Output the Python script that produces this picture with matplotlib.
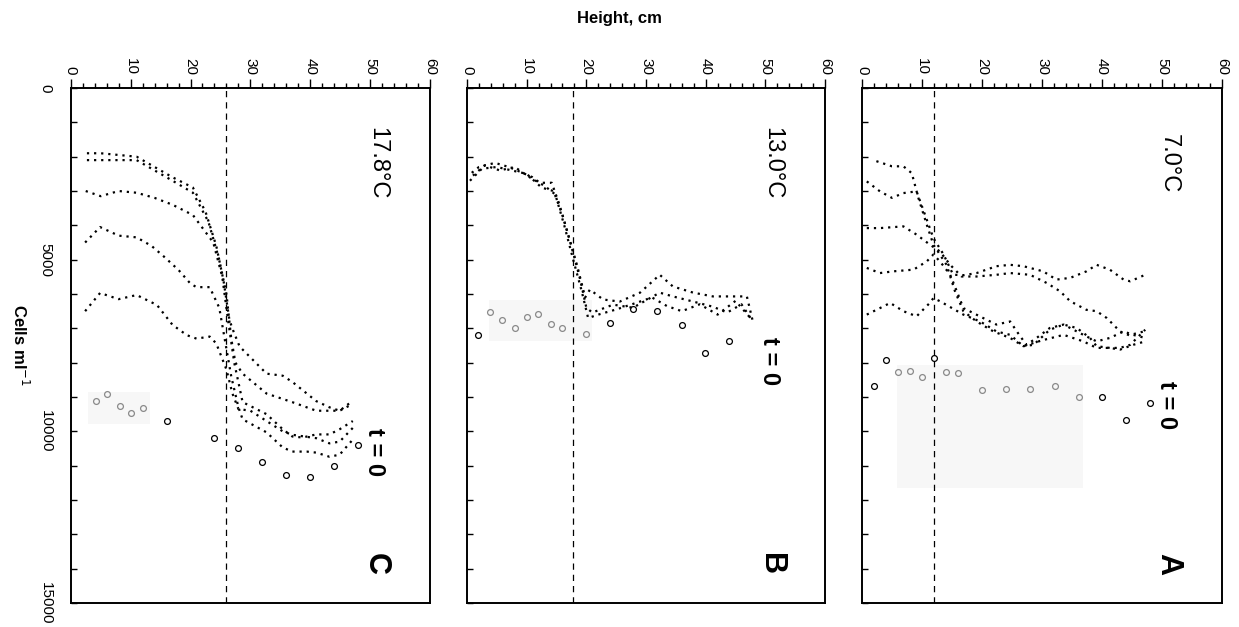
import numpy as np
import matplotlib
matplotlib.use('Agg')
import matplotlib.pyplot as plt
from matplotlib.patches import Rectangle

plt.rcParams['font.family'] = ['Liberation Sans', 'DejaVu Sans']

# ---- panel A : 7.0 C ----
a_h1 = [2.4, 5.0, 6.9, 8.3, 9.4, 10.8, 11.9, 14.1, 15.5, 16.9, 19.1, 21.9, 24.7, 26.9, 28.6, 31.3, 33.6, 35.8, 38.0, 39.1, 41.3, 43.0, 44.7, 47.2]
a_c1 = [2130, 2280, 2280, 2480, 3200, 3980, 4560, 5150, 5920, 6500, 6800, 7090, 7280, 7520, 7480, 7040, 6890, 6990, 7280, 7520, 7570, 7570, 7480, 7040]
a_h2 = [0.8, 3.0, 5.0, 6.9, 9.1, 10.5, 11.9, 13.6, 15.2, 17.0, 19.1, 22.4, 24.7, 26.9, 30.2, 32.4, 34.7, 37.4, 39.1, 41.3, 43.6, 44.7, 47.2]
a_c2 = [2720, 3010, 3200, 3060, 3010, 3690, 4370, 4850, 5440, 5450, 5390, 5190, 5150, 5190, 5340, 5580, 5530, 5340, 5150, 5290, 5580, 5630, 5440]
a_h3 = [0.8, 3.0, 6.9, 9.1, 11.3, 13.0, 14.7, 16.6, 19.1, 22.4, 24.7, 28.0, 30.8, 33.0, 34.7, 37.4, 39.1, 40.8, 43.0, 44.5, 47.0]
a_c3 = [4080, 4080, 4030, 4270, 4560, 4760, 5150, 5490, 5490, 5440, 5390, 5440, 5680, 5920, 6210, 6460, 6500, 6700, 7090, 7200, 7090]
a_h4 = [0.8, 3.0, 5.2, 8.6, 10.8, 11.9, 13.0, 14.7, 15.8, 16.9, 20.2, 22.4, 24.7, 25.8, 27.4, 29.1, 31.3, 33.6, 36.9, 39.1, 41.3, 43.6, 45.2, 47.2]
a_c4 = [5240, 5390, 5340, 5290, 5050, 4850, 5050, 5440, 5920, 6410, 6700, 6890, 6800, 7090, 7480, 7280, 6990, 6890, 7190, 7380, 7280, 7090, 7190, 7280]
a_h5 = [0.8, 3.0, 4.7, 6.9, 9.1, 11.3, 11.9, 13.0, 15.0, 16.9, 19.7, 22.4, 24.7, 26.9, 30.0, 33.6, 36.9, 39.1, 41.3, 43.0, 45.2, 47.2]
a_c5 = [6600, 6410, 6260, 6500, 6650, 6260, 6120, 6210, 6410, 6600, 6800, 7090, 7190, 7520, 7350, 7190, 7380, 7570, 7570, 7620, 7480, 7380]
a_t0_h = [2.0, 4.0, 6.0, 8.0, 10.0, 12.0, 14.0, 16.0, 20.0, 24.0, 28.0, 32.1, 36.1, 40.0, 44.0, 48.0]
a_t0_c = [8690, 7910, 8270, 8250, 8420, 7870, 8270, 8300, 8790, 8770, 8770, 8670, 8990, 9010, 9680, 9180]

# ---- panel B : 13.0 C ----
b_h1 = [0.8, 2.0, 4.7, 7.0, 8.9, 11.0, 12.2, 14.2, 15.5, 17.0, 18.5, 19.8, 20.6, 22.8, 25.6, 29.0, 32.3, 34.5, 37.9, 41.2, 44.5, 46.9, 47.9]
b_c1 = [2470, 2300, 2180, 2300, 2440, 2600, 2760, 2760, 3400, 4300, 5200, 6100, 5870, 6160, 6220, 5960, 5440, 5780, 5960, 6070, 6070, 6070, 6800]
b_h2 = [0.5, 2.5, 5.0, 7.5, 10.0, 12.5, 14.5, 16.0, 17.5, 19.0, 20.0, 21.0, 24.5, 27.8, 32.3, 34.5, 37.9, 41.2, 43.6, 46.0, 47.9]
b_c2 = [2700, 2350, 2300, 2400, 2500, 2900, 3000, 3700, 4600, 5600, 6400, 6540, 6310, 6400, 5960, 6070, 6220, 6370, 6540, 6300, 6800]
b_h3 = [1.0, 3.0, 5.5, 8.0, 10.5, 13.0, 14.8, 16.3, 17.8, 19.2, 20.3, 22.0, 25.0, 28.5, 31.0, 33.5, 36.0, 39.0, 42.0, 45.0, 47.5]
b_c3 = [2550, 2250, 2400, 2300, 2600, 2850, 3100, 4000, 5000, 5900, 6700, 6600, 6450, 6250, 6100, 6350, 6500, 6300, 6600, 6200, 6700]
b_t0_h = [1.8, 3.9, 5.9, 8.0, 10.0, 11.9, 14.0, 16.0, 20.0, 24.0, 27.9, 31.9, 36.0, 39.9, 43.9]
b_t0_c = [7180, 6520, 6760, 6980, 6670, 6590, 6880, 7000, 7160, 6840, 6430, 6490, 6910, 7730, 7380]

# ---- panel C : 17.8 C ----
c_h1 = [2.7, 5.0, 8.0, 11.0, 14.0, 17.0, 20.4, 22.5, 24.3, 25.5, 26.5, 27.2, 28.2, 32.7, 35.4, 37.0, 41.0, 43.2, 44.9, 47.0]
c_c1 = [1900, 1900, 1950, 2000, 2300, 2600, 2900, 3600, 4600, 5600, 6760, 7100, 7530, 8320, 8380, 8560, 9120, 9300, 9400, 9120]
c_h2 = [2.7, 5.0, 8.0, 11.0, 14.0, 17.0, 20.4, 23.0, 24.8, 26.0, 26.8, 27.5, 28.7, 32.7, 37.0, 41.0, 43.2, 44.9, 47.1]
c_c2 = [2100, 2100, 2100, 2100, 2400, 2700, 3050, 3900, 5000, 6000, 7300, 8000, 8320, 8900, 9150, 9400, 9400, 9400, 9200]
c_h3 = [2.5, 5.0, 8.0, 11.0, 14.0, 17.0, 20.4, 23.8, 25.3, 26.3, 27.3, 28.7, 32.7, 35.4, 37.0, 38.7, 41.0, 43.2, 44.9, 47.1]
c_c3 = [3000, 3150, 3000, 3050, 3200, 3400, 3700, 4500, 5500, 6800, 8000, 9150, 9500, 9940, 10150, 10180, 10090, 10090, 9940, 9700]
c_h4 = [2.4, 4.9, 8.0, 11.0, 13.5, 15.5, 18.0, 20.0, 21.0, 23.2, 24.8, 25.8, 26.8, 28.0, 28.7, 32.7, 35.4, 37.0, 39.4, 41.0, 43.2, 44.9, 47.1]
c_c4 = [4500, 4050, 4300, 4350, 4600, 4900, 5300, 5700, 5800, 5800, 6400, 7400, 8400, 9300, 9650, 10030, 10470, 10590, 10590, 10620, 10740, 10680, 10240]
c_h5 = [2.4, 4.9, 8.0, 11.0, 14.4, 17.0, 19.4, 21.0, 23.2, 24.3, 26.0, 27.0, 28.0, 30.0, 32.7, 35.4, 37.0, 41.0, 43.2, 44.9, 47.1]
c_c5 = [6500, 5970, 6150, 6030, 6320, 6900, 7200, 7300, 7240, 7440, 8200, 8900, 9350, 9400, 9700, 10000, 10100, 10200, 10350, 10300, 9900]
c_t0_h = [4.2, 6.1, 8.2, 10.1, 12.1, 16.0, 23.9, 28.0, 32.0, 36.0, 40.0, 44.0, 47.9]
c_t0_c = [9110, 8910, 9260, 9480, 9320, 9710, 10200, 10480, 10890, 11260, 11320, 11020, 10400]

fig = plt.figure(figsize=(12.39, 6.27), dpi=100)


def panel(rect, lines, t0_h, t0_c, dash_h, box, temp, t0_y, letter, ylabels):
    ax = fig.add_axes(rect)
    # faint grey scan patch
    x0, x1, y0, y1 = box
    ax.add_patch(Rectangle((x0, y0), x1 - x0, y1 - y0, color='#f7f7f7', lw=0, zorder=0))
    for h, c in lines:
        ax.plot(h, c, ls=(0, (1, 2.2)), color='black', lw=1.6)
    th = np.array(t0_h)
    tc = np.array(t0_c)
    inside = (th >= x0) & (th <= x1) & (tc >= y0) & (tc <= y1)
    ax.plot(th[~inside], tc[~inside], 'o', ms=4.2, mfc='none', mec='black', mew=0.9)
    ax.plot(th[inside], tc[inside], 'o', ms=4.2, mfc='none', mec='#8a8a8a', mew=0.9)
    ax.axvline(dash_h, color='black', lw=0.9, ls=(0, (5, 4)))
    ax.set_xlim(0, 60)
    ax.set_ylim(15000, 0)
    ax.xaxis.tick_top()
    ax.set_xticks(np.arange(0, 61, 10))
    ax.set_xticks(np.arange(0, 61, 2), minor=True)
    ax.tick_params(axis='x', which='major', direction='out', length=6.5, width=1, labelsize=11, pad=3, labelrotation=-90)
    ax.tick_params(axis='x', which='minor', direction='out', length=3.5, width=1)
    ax.set_yticks([0, 5000, 10000, 15000])
    ax.set_yticks(np.arange(0, 15001, 1000), minor=True)
    ax.tick_params(axis='y', which='both', direction='in', length=4, width=1, right=False)
    ax.tick_params(axis='y', which='major', labelsize=11, pad=13, labelrotation=-90)
    if ylabels:
        for t in ax.get_yticklabels():
            t.set_va('center')
    else:
        ax.set_yticklabels([])
    for s in ax.spines.values():
        s.set_linewidth(1.4)
    ax.text(51.2, 2200, temp, rotation=-90, ha='center', va='center', fontsize=17)
    ax.text(50.7, t0_y, 't = 0', rotation=-90, ha='center', va='center', fontsize=17, weight='bold')
    ax.text(51.0, 13850, letter, rotation=-90, ha='center', va='center', fontsize=22, weight='bold')
    return ax


bottom, height = 0.0383, 0.8213
panel([0.0571, bottom, 0.2900, height],
      [(c_h1, c_c1), (c_h2, c_c2), (c_h3, c_c3), (c_h4, c_c4), (c_h5, c_c5)],
      c_t0_h, c_t0_c, 26.0, (2.9, 13.2, 8850, 9800), '17.8°C', 10600, 'C', True)
panel([0.3769, bottom, 0.2890, height],
      [(b_h1, b_c1), (b_h2, b_c2), (b_h3, b_c3)],
      b_t0_h, b_t0_c, 17.8, (3.7, 21.0, 6160, 7380), '13.0°C', 7960, 'B', False)
panel([0.6957, bottom, 0.2906, height],
      [(a_h1, a_c1), (a_h2, a_c2), (a_h3, a_c3), (a_h4, a_c4), (a_h5, a_c5)],
      a_t0_h, a_t0_c, 12.0, (5.8, 36.9, 8060, 11650), '7.0°C', 9230, 'A', False)

fig.text(0.5, 0.971, 'Height, cm', ha='center', va='center', fontsize=12, weight='bold')
fig.text(0.016, 0.45, 'Cells ml$^{-1}$', rotation=-90, ha='center', va='center', fontsize=12, weight='bold')

fig.savefig('out.png', dpi=100)
